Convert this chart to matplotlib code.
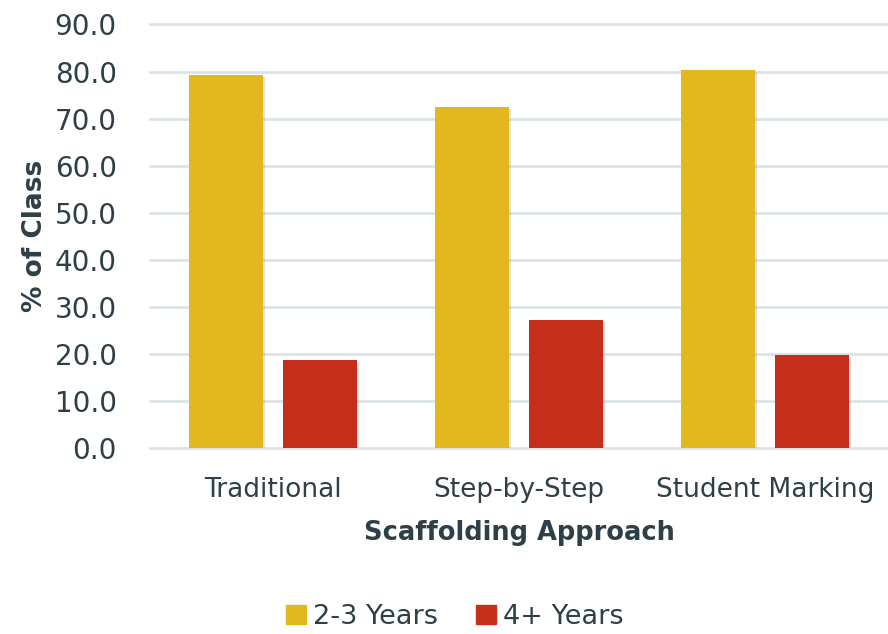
import numpy as np
import matplotlib
matplotlib.use("Agg")
import matplotlib.pyplot as plt
import matplotlib.patheffects as pe
from matplotlib.patches import Patch

approaches = ["Traditional", "Step-by-Step", "Student Marking"]
series_names = ["2-3 Years", "4+ Years"]
years_2_3 = [79.3, 72.5, 80.4]
years_4_plus = [18.6, 27.3, 19.7]
yticks = [0, 10, 20, 30, 40, 50, 60, 70, 80, 90]

yellow = "#e3b81f"
red = "#c42e1a"
text_col = "#2e3f47"
grid_col = "#dbe3e6"

plt.rcParams["font.family"] = ["DejaVu Sans"]

fig = plt.figure(figsize=(8.88, 6.34), dpi=100)
ax = fig.add_axes([0.169, 0.2934, 0.831, 0.668])

x = np.arange(len(approaches))
w = 0.30
off = 0.19
shadow = [pe.SimplePatchShadow(offset=(1.5, -1.5), shadow_rgbFace="#888888", alpha=0.25), pe.Normal()]

b1 = ax.bar(x - off, years_2_3, width=w, color=yellow, zorder=3)
b2 = ax.bar(x + off, years_4_plus, width=w, color=red, zorder=3)
for b in list(b1) + list(b2):
    b.set_path_effects(shadow)

ax.set_xlim(-0.5, 2.5)
ax.set_ylim(0, 90)
ax.set_yticks(yticks)
ax.set_yticklabels([f"{v:.1f}" for v in yticks])
ax.set_xticks(x)
ax.set_xticklabels(approaches)

ax.grid(axis="y", color=grid_col, linewidth=2, zorder=0)
ax.set_axisbelow(True)
for gl in ax.get_ygridlines():
    gl.set_clip_on(False)
for s in ax.spines.values():
    s.set_visible(False)

ax.tick_params(axis="y", length=0, pad=24, labelsize=20, labelcolor=text_col)
ax.tick_params(axis="x", length=0, pad=21, labelsize=19, labelcolor=text_col)

ax.set_ylabel("% of Class", fontsize=19, fontweight="bold", color=text_col, labelpad=5)
ax.set_xlabel("Scaffolding Approach", fontsize=18.5, fontweight="bold", color=text_col, labelpad=12)

handles = [Patch(color=yellow), Patch(color=red)]
fig.legend(handles, series_names, loc="center", bbox_to_anchor=(0.512, 0.027),
           ncol=2, frameon=False, fontsize=19.5, handlelength=0.75, handleheight=0.75,
           handletextpad=0.25, columnspacing=1.4, labelcolor=text_col)

fig.savefig("out.png", dpi=100)
